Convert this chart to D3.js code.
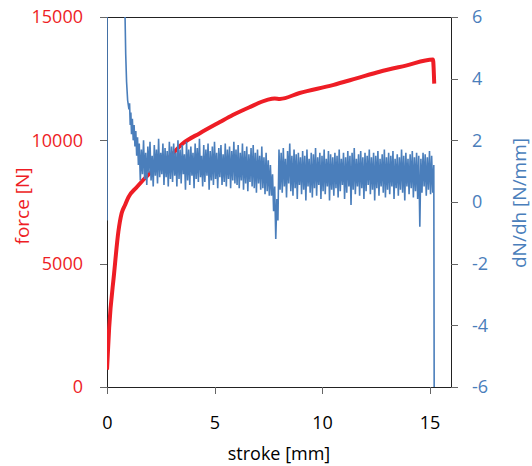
<!DOCTYPE html>
<html>
<head>
<meta charset="utf-8">
<script src="https://cdn.jsdelivr.net/npm/d3@7"></script>
<style>
  body { margin: 0; background: #fff; }
  svg text { font-family: "Open Sans", sans-serif; }
</style>
</head>
<body>
<svg id="chart" width="532" height="466"></svg>
<script>
// ---------------------------------------------------------------------------
// Data

const strokeTicks = [0, 5, 10, 15];
const forceTicks = [0, 5000, 10000, 15000];
const dndhTicks = [-6, -4, -2, 0, 2, 4, 6];

// force curve: stroke [mm] / force [N]
const forceStroke = [0, 0.1, 0.33, 0.53, 0.68, 0.84, 1.0, 1.38, 2.0, 2.77, 3.55, 4.32, 5.25, 5.85,
  6.6, 7.42, 7.8, 8.04, 8.96, 10.5, 11.6, 12.68, 13.9, 15.16, 15.22];
const forceValues = [700, 2400, 4600, 6300, 7040, 7380, 7700, 8100, 8670, 9200, 9890, 10290, 10740, 11025,
  11330, 11630, 11700, 11680, 11920, 12240, 12510, 12780, 13030, 13280, 12300];

// dN/dh: steep start, then a sampled noisy band, then the drop at the end
const dndhHeadStroke = [0, 0.02, 0.5, 0.84, 0.87, 0.91, 0.96, 1.02, 1.05, 1.08, 1.11, 1.14,
  1.18, 1.22, 1.26, 1.30, 1.34, 1.38, 1.42, 1.46];
const dndhHeadValues = [-0.6, 40, 9, 6.0, 4.8, 3.9, 3.3, 3.0, 3.2, 2.5, 2.9, 2.2,
  2.7, 2.0, 2.5, 1.8, 2.3, 1.5, 2.1, 1.2];

const dndhBandStart = 1.5;   // mm
const dndhBandStep = 0.05;   // mm
const dndhBandValues = [
  // 1.5 - 3.0
  1.9, 0.7, 1.7, 0.9, 2.0, 0.75, 1.6, 0.55, 1.8, 0.95,
  1.95, 0.7, 1.5, 0.5, 1.85, 0.85, 1.7, 0.6, 2.05, 0.8,
  1.6, 0.9, 1.9, 0.55, 1.75, 0.8, 1.65, 0.5, 1.95, 0.75,
  // 3.0 - 6.0
  1.8, 0.65, 1.9, 0.85, 1.6, 0.5, 2.0, 0.75, 1.7, 0.6,
  1.85, 0.9, 1.55, 0.4, 1.95, 0.7, 1.7, 0.55, 1.8, 0.85,
  1.6, 0.45, 1.9, 0.75, 1.75, 0.65, 2.05, 0.8, 1.5, 0.5,
  1.85, 0.65, 1.7, 0.85, 1.9, 0.4, 1.65, 0.7, 1.8, 0.55,
  1.95, 0.75, 1.6, 0.45, 1.75, 0.8, 1.85, 0.55, 1.55, 0.65,
  1.9, 0.5, 1.7, 0.75, 1.8, 0.45, 1.65, 0.7, 1.95, 0.6,
  // 6.0 - 7.6
  1.7, 0.55, 1.85, 0.45, 1.6, 0.7, 1.9, 0.4, 1.65, 0.6,
  1.8, 0.35, 1.55, 0.65, 1.75, 0.5, 1.85, 0.45, 1.6, 0.3,
  1.7, 0.6, 1.5, 0.4, 1.8, 0.45, 1.45, 0.25, 1.6, 0.35,
  1.35, 0.2,
  // dip near 7.9
  1.2, 0.2, 0.9, -0.3, 0.5, -1.2, 0.1, -0.6, 1.7, 0.4,
  // 8.1 - 15.2
  1.6, 0.3, 1.75, 0.5, 1.4, 0.15, 1.65, 0.6, 1.9, 0.35,
  1.5, 0.2, 1.7, 0.45, 1.55, 0.1, 1.6, 0.55, 1.45, 0.25,
  1.65, 0.4, 1.5, 0.05, 1.7, 0.5, 1.4, 0.3, 1.6, 0.15,
  1.55, 0.45, 1.75, 0.2, 1.45, 0.55, 1.6, 0.1, 1.5, 0.35,
  1.7, 0.25, 1.4, 0.5, 1.65, 0.05, 1.55, 0.4, 1.45, 0.2,
  1.6, 0.45, 1.5, 0.15, 1.7, 0.35, 1.4, 0.55, 1.6, 0.1,
  1.45, 0.3, 1.65, 0.5, 1.5, -0.1, 1.6, 0.4, 1.75, 0.25,
  1.4, 0.5, 1.55, 0.2, 1.65, 0.45, 1.45, 0.1, 1.6, 0.35,
  1.5, 0.55, 1.7, 0.25, 1.45, 0.4, 1.6, 0.05, 1.5, 0.45,
  1.65, 0.2, 1.4, 0.5, 1.55, 0.3, 1.7, 0.15, 1.45, 0.4,
  1.6, 0.25, 1.5, 0.5, 1.65, 0.1, 1.4, 0.45, 1.55, 0.2,
  1.45, 0.4, 1.7, 0.3, 1.5, 0.05, 1.6, 0.5, 1.4, 0.25,
  1.55, 0.45, 1.65, 0.15, 1.45, 0.35, 1.6, 0.1, 1.5, -0.8,
  1.4, 0.3, 1.6, 0.5, 1.55, 0.2, 1.45, 0.4, 1.65, 0.25,
  1.5, 0.3, 1.2
];

const dndhTailStroke = [15.22];
const dndhTailValues = [-7];

// ---------------------------------------------------------------------------
// Layout

const plot = { left: 107, right: 451, top: 17, bottom: 387 };
const red = '#ee1d25';
const blue = '#4a7ebb';

const svg = d3.select('#chart');

const x = d3.scaleLinear().domain([0, 16]).range([plot.left, plot.right]);
const yForce = d3.scaleLinear().domain([0, 15000]).range([plot.bottom, plot.top]);
const yDndh = d3.scaleLinear().domain([-6, 6]).range([plot.bottom, plot.top]);

svg.append('defs').append('clipPath').attr('id', 'plot-clip')
  .append('rect')
  .attr('x', plot.left).attr('y', plot.top)
  .attr('width', plot.right - plot.left).attr('height', plot.bottom - plot.top);

// frame
svg.append('rect')
  .attr('x', plot.left).attr('y', plot.top)
  .attr('width', plot.right - plot.left).attr('height', plot.bottom - plot.top)
  .attr('fill', 'none').attr('stroke', '#222').attr('stroke-width', 1)
  .attr('shape-rendering', 'crispEdges');

function styleAxis(g, color) {
  g.select('.domain').remove();
  g.selectAll('.tick line').attr('stroke', '#666').attr('shape-rendering', 'crispEdges');
  g.selectAll('.tick text').attr('fill', color).attr('font-size', 18);
}

svg.append('g')
  .attr('transform', `translate(0,${plot.bottom})`)
  .call(d3.axisBottom(x).tickValues(strokeTicks).tickSize(7).tickPadding(22)
    .tickFormat(d => String(d)))
  .call(g => styleAxis(g, '#000'));

svg.append('g')
  .attr('transform', `translate(${plot.left},0)`)
  .call(d3.axisLeft(yForce).tickValues(forceTicks).tickSize(7).tickPadding(17)
    .tickFormat(d => String(d)))
  .call(g => styleAxis(g, red));

svg.append('g')
  .attr('transform', `translate(${plot.right},0)`)
  .call(d3.axisRight(yDndh).tickValues(dndhTicks).tickSize(7).tickPadding(14)
    .tickFormat(d => String(d)))
  .call(g => styleAxis(g, blue));

// series
const forceData = forceStroke.map((s, i) => [s, forceValues[i]]);

const dndhData = dndhHeadStroke.map((s, i) => [s, dndhHeadValues[i]])
  .concat(dndhBandValues.map((v, i) => [dndhBandStart + i * dndhBandStep, v]))
  .concat(dndhTailStroke.map((s, i) => [s, dndhTailValues[i]]));

const series = svg.append('g').attr('clip-path', 'url(#plot-clip)');

series.append('path')
  .datum(forceData)
  .attr('fill', 'none')
  .attr('stroke', red)
  .attr('stroke-width', 4)
  .attr('stroke-linejoin', 'round')
  .attr('d', d3.line().x(d => x(d[0])).y(d => yForce(d[1])).curve(d3.curveMonotoneX));

series.append('path')
  .datum(dndhData)
  .attr('fill', 'none')
  .attr('stroke', blue)
  .attr('stroke-width', 1.6)
  .attr('d', d3.line().x(d => x(d[0])).y(d => yDndh(d[1])));

// axis titles
svg.append('text')
  .attr('x', (plot.left + plot.right) / 2).attr('y', 460)
  .attr('text-anchor', 'middle').attr('font-size', 18).attr('fill', '#000')
  .text('stroke [mm]');

svg.append('text')
  .attr('transform', 'translate(29,206) rotate(-90)')
  .attr('text-anchor', 'middle').attr('font-size', 19).attr('fill', red)
  .text('force [N]');

svg.append('text')
  .attr('transform', 'translate(526,203) rotate(-90)')
  .attr('text-anchor', 'middle').attr('font-size', 19).attr('fill', blue)
  .text('dN/dh [N/mm]');
</script>
</body>
</html>
